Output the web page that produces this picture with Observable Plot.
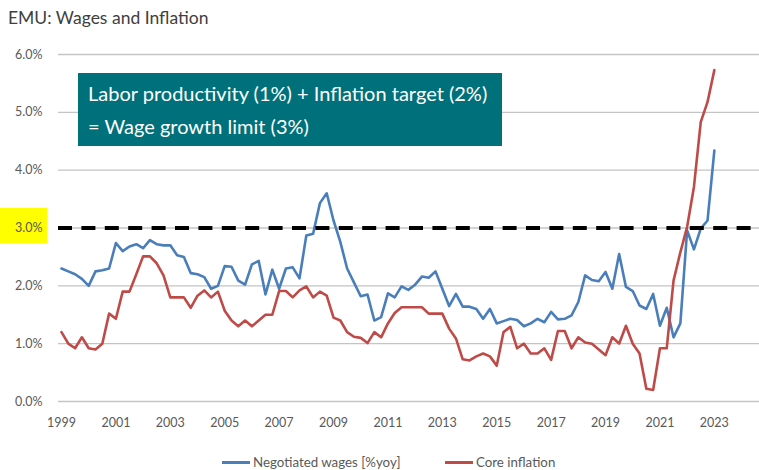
<!DOCTYPE html>
<html>
<head>
<meta charset="utf-8">
<script src="https://cdn.jsdelivr.net/npm/d3@7"></script>
<script src="https://cdn.jsdelivr.net/npm/@observablehq/plot@0.6"></script>
<style>
  body { margin: 0; background: #fff; font-family: Lato, "Open Sans", sans-serif; }
  #wrap { position: relative; width: 759px; height: 470px; overflow: hidden; background: #fff; }
  #title { height: 40px; box-sizing: border-box; padding: 6px 0 0 8px; font-size: 17.5px; line-height: 24px; color: #404040; }
  #chart svg { display: block; }
  #box { position: absolute; left: 78px; top: 73px; width: 424px; height: 73px; box-sizing: border-box;
         background: #00717A; color: #fff; padding: 4px 0 0 10px; font-size: 20px; line-height: 33px; white-space: nowrap; }
  #legend { position: relative; height: 30px; font-size: 13.3px; color: #595959; }
  .item { position: absolute; top: 14px; display: flex; align-items: center; line-height: 16px; }
  .sw { width: 28px; height: 3px; margin-right: 3px; }
</style>
</head>
<body>
<div id="wrap">
  <div id="title">EMU: Wages and Inflation</div>
  <div id="chart"></div>
  <div id="legend"></div>
  <div id="box"><span id="l1">Labor productivity (1%) + Inflation target (2%)</span><br><span id="l2">= Wage growth limit (3%)</span></div>
</div>
<script>
// ---- data (quarterly, 1999Q1 .. 2023Q1), in % y/y ----
const startYear = 1999;
const wages = [
  2.3, 2.25, 2.2, 2.12, 2.0, 2.25, 2.27, 2.3, 2.74, 2.6,
  2.68, 2.72, 2.65, 2.79, 2.72, 2.7, 2.7, 2.53, 2.5, 2.22,
  2.2, 2.15, 1.95, 2.0, 2.34, 2.33, 2.09, 2.02, 2.37, 2.43,
  1.85, 2.28, 1.95, 2.3, 2.32, 2.13, 2.87, 2.9, 3.43, 3.6,
  3.13, 2.76, 2.3, 2.06, 1.82, 1.85, 1.4, 1.46, 1.87, 1.8,
  1.99, 1.93, 2.02, 2.16, 2.14, 2.25, 1.95, 1.65, 1.86, 1.64,
  1.64, 1.6, 1.43, 1.6, 1.35, 1.39, 1.43, 1.41, 1.3, 1.35,
  1.43, 1.37, 1.55, 1.42, 1.43, 1.49, 1.72, 2.18, 2.1, 2.08,
  2.24, 1.95, 2.55, 1.98, 1.91, 1.66, 1.6, 1.86, 1.31, 1.62,
  1.11, 1.35, 2.96, 2.63, 2.99, 3.13, 4.34
];
const coreInflation = [
  1.2, 1.0, 0.92, 1.11, 0.92, 0.9, 1.0, 1.52, 1.43, 1.9,
  1.9, 2.2, 2.51, 2.51, 2.39, 2.18, 1.8, 1.8, 1.8, 1.62,
  1.83, 1.92, 1.8, 1.9, 1.57, 1.4, 1.3, 1.4, 1.3, 1.4,
  1.5, 1.5, 1.91, 1.91, 1.8, 1.92, 1.99, 1.8, 1.9, 1.83,
  1.45, 1.4, 1.2, 1.12, 1.1, 1.01, 1.2, 1.11, 1.35, 1.53,
  1.63, 1.63, 1.63, 1.63, 1.52, 1.52, 1.52, 1.26, 1.09, 0.73,
  0.71, 0.78, 0.83, 0.78, 0.62, 1.2, 1.29, 0.92, 1.0, 0.83,
  0.83, 0.92, 0.72, 1.22, 1.22, 0.92, 1.11, 1.02, 1.0, 0.9,
  0.8, 1.11, 1.0, 1.31, 1.0, 0.83, 0.22, 0.2, 0.92, 0.92,
  2.09, 2.58, 3.02, 3.71, 4.83, 5.18, 5.73
];
const seriesNames = ["Negotiated wages [%yoy]", "Core inflation"];
const seriesColors = ["#4A7EBB", "#BE4B48"];
const yTicks = [0, 1, 2, 3, 4, 5, 6];
const xTicks = [1999, 2001, 2003, 2005, 2007, 2009, 2011, 2013, 2015, 2017, 2019, 2021, 2023];
const wageLimit = [3];

// ---- table for Plot ----
const rows = [];
wages.forEach((v, i) => rows.push({date: startYear + i / 4, value: v, series: seriesNames[0]}));
coreInflation.forEach((v, i) => rows.push({date: startYear + i / 4, value: v, series: seriesNames[1]}));

const plot = Plot.plot({
  width: 759,
  height: 400,
  marginTop: 14,
  marginBottom: 39,
  marginLeft: 58,
  marginRight: 0,
  style: {fontFamily: "Lato, 'Open Sans', sans-serif", fontSize: "12.5px", color: "#595959", background: "white", overflow: "visible"},
  x: {type: "linear", domain: [1998.89, 2024.66], ticks: xTicks, tickFormat: d => String(d), label: null, tickSize: 0, tickPadding: 17},
  y: {domain: [0, 6], ticks: yTicks, tickFormat: d => d.toFixed(1) + "%", label: null, tickSize: 0, tickPadding: 16},
  color: {domain: seriesNames, range: seriesColors},
  marks: [
    Plot.ruleY(yTicks, {stroke: "#c4c4c4", strokeWidth: 1.4}),
    Plot.line(rows, {x: "date", y: "value", z: "series", stroke: "series", strokeWidth: 2.6}),
    Plot.ruleY(wageLimit, {stroke: "#000", strokeWidth: 4, strokeDasharray: "14,9.4"})
  ]
});

// yellow highlight behind the 3.0% tick label
const ys = plot.scale("y");
d3.select(plot).insert("rect", "g")
  .attr("x", 0).attr("width", 47)
  .attr("y", ys.apply(3) - 19.5).attr("height", 35)
  .attr("fill", "#FFFF00");

document.getElementById("chart").appendChild(plot);

// legend
const legend = d3.select("#legend");
const lefts = [222, 445];
seriesNames.forEach((name, i) => {
  const it = legend.append("div").attr("class", "item").style("left", lefts[i] + "px");
  it.append("div").attr("class", "sw").style("background", seriesColors[i]);
  it.append("span").text(name);
});
</script>
</body>
</html>
